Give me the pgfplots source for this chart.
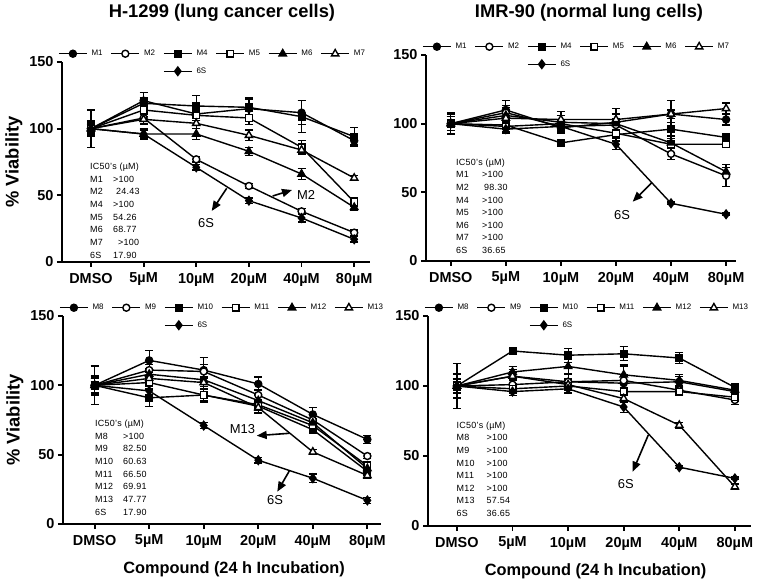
\documentclass[border=0pt]{standalone}
\usepackage{fontspec}
\setmainfont{Liberation Sans}
\usepackage{pgfplots}
\pgfplotsset{compat=1.18}
\usetikzlibrary{arrows.meta}

\pgfplotsset{
  vpanel/.style={
    scale only axis, clip=false,
    axis x line*=bottom, axis y line*=left,
    axis line style={line width=1.8bp, -},
    ymin=0, ymax=150, ytick={0,50,100,150},
    xtick={0,1,2,3,4,5},
    xticklabels={DMSO,5µM,10µM,20µM,40µM,80µM},
    tick align=outside, major tick length=5bp,
    tick style={black, line width=1.8bp},
    tick label style={font=\fontsize{14.5}{16}\selectfont\bfseries},
    xticklabel style={yshift=-2.5bp},
    /pgf/number format/assume math mode=true,
    ylabel style={font=\fontsize{18.4}{20}\selectfont\bfseries},
    xlabel style={font=\fontsize{16.4}{18}\selectfont\bfseries, yshift=-7bp},
    error bars/y dir=both, error bars/y explicit,
    error bars/error bar style={line width=1.2bp},
    error bars/error mark options={rotate=90, mark size=4bp, line width=1.2bp},
    legend columns=6, legend cell align=left,
    legend style={draw=none, fill=none, font=\fontsize{8}{10}\selectfont,
      at={(0,1)}, anchor=north west, xshift=-4bp, yshift=14bp,
      inner sep=0pt, row sep=6.5bp,
      /tikz/every odd column/.append style={column sep=2bp},
      /tikz/every even column/.append style={column sep=6bp}},
    legend image code/.code={\draw[mark repeat=2,mark phase=2]
      plot coordinates {(0bp,0bp) (14bp,0bp) (28bp,0bp)};},
    every axis plot/.append style={black, line width=1.4bp, mark size=3.5bp},
  },
  m1/.style={mark=*},
  m2/.style={mark=*, mark options={fill=white}},
  m4/.style={mark=square*, mark size=3.3bp},
  m5/.style={mark=square*, mark size=3.3bp, mark options={fill=white}},
  m6/.style={mark=triangle*, mark size=4.2bp},
  m7/.style={mark=triangle*, mark size=4.2bp, mark options={fill=white}},
  m6s/.style={mark=diamond*, mark size=4.2bp},
}

\begin{document}
\begin{tikzpicture}
\useasboundingbox (0,0) rectangle (767bp,584bp);

% H-1299, M1-M7
\begin{axis}[vpanel, at={(62bp,322bp)}, anchor=south west,
  width=308bp, height=200bp, xmin=-0.55, xmax=5.30,
  ylabel={\% Viability}]
\addplot[m1] coordinates {(0,100) +- (0,6) (1,121) +- (0,6) (2,111) +- (0,5) (3,115) +- (0,7) (4,112) +- (0,9) (5,91) +- (0,3)};
\addlegendentry{M1}
\addplot[m2] coordinates {(0,100) +- (0,4) (1,108) +- (0,4) (2,77) +- (0,2) (3,57) +- (0,2) (4,38) +- (0,2) (5,22) +- (0,2)};
\addlegendentry{M2}
\addplot[m4] coordinates {(0,100) +- (0,14) (1,119) +- (0,4) (2,117) +- (0,8) (3,116) +- (0,7) (4,109) +- (0,12) (5,94) +- (0,7)};
\addlegendentry{M4}
\addplot[m5] coordinates {(0,100) +- (0,5) (1,114) +- (0,5) (2,110) +- (0,4) (3,108) +- (0,5) (4,86) +- (0,5) (5,45) +- (0,3)};
\addlegendentry{M5}
\addplot[m6] coordinates {(0,100) +- (0,3) (1,96) +- (0,4) (2,96) +- (0,4) (3,83) +- (0,3) (4,66) +- (0,4) (5,41) +- (0,2)};
\addlegendentry{M6}
\addplot[m7] coordinates {(0,100) +- (0,3) (1,107) +- (0,4) (2,104) +- (0,4) (3,95) +- (0,4) (4,84) +- (0,3) (5,63) +- (0,2)};
\addlegendentry{M7}
\addlegendimage{empty legend}\addlegendentry{\mbox{}}
\addlegendimage{empty legend}\addlegendentry{\mbox{}}
\addplot[m6s] coordinates {(0,100) +- (0,3) (1,96) +- (0,3) (2,71) +- (0,2) (3,46) +- (0,2) (4,33) +- (0,3) (5,17) +- (0,2)};
\addlegendentry{6S}
\end{axis}

% IMR-90, M1-M7
\begin{axis}[vpanel, at={(426bp,323bp)}, anchor=south west,
  width=310bp, height=206bp, xmin=-0.45, xmax=5.18]
\addplot[m1] coordinates {(0,100) +- (0,8) (1,110) +- (0,7) (2,97) +- (0,4) (3,101) +- (0,6) (4,107) +- (0,10) (5,103) +- (0,4)};
\addlegendentry{M1}
\addplot[m2] coordinates {(0,100) +- (0,5) (1,108) +- (0,5) (2,98) +- (0,4) (3,99) +- (0,8) (4,78) +- (0,4) (5,62) +- (0,8)};
\addlegendentry{M2}
\addplot[m4] coordinates {(0,100) +- (0,7) (1,99) +- (0,5) (2,86) +- (0,2) (3,92) +- (0,4) (4,96) +- (0,5) (5,90) +- (0,3)};
\addlegendentry{M4}
\addplot[m5] coordinates {(0,100) +- (0,5) (1,98) +- (0,4) (2,100) +- (0,6) (3,93) +- (0,6) (4,85) +- (0,6) (5,85) +- (0,2)};
\addlegendentry{M5}
\addplot[m6] coordinates {(0,100) +- (0,5) (1,106) +- (0,6) (2,101) +- (0,5) (3,100) +- (0,4) (4,86) +- (0,3) (5,65) +- (0,3)};
\addlegendentry{M6}
\addplot[m7] coordinates {(0,100) +- (0,5) (1,104) +- (0,5) (2,103) +- (0,6) (3,103) +- (0,8) (4,107) +- (0,3) (5,111) +- (0,4)};
\addlegendentry{M7}
\addlegendimage{empty legend}\addlegendentry{\mbox{}}
\addlegendimage{empty legend}\addlegendentry{\mbox{}}
\addplot[m6s] coordinates {(0,100) +- (0,3) (1,96) +- (0,3) (2,98) +- (0,3) (3,85) +- (0,4) (4,42) +- (0,1) (5,34) +- (0,1)};
\addlegendentry{6S}
\end{axis}

% H-1299, M8-M13
\begin{axis}[vpanel, at={(63bp,60bp)}, anchor=south west,
  width=318bp, height=208bp, xmin=-0.58, xmax=5.25,
  ylabel={\% Viability}, xlabel={Compound (24 h Incubation)},
  xlabel style={xshift=12bp}]
\addplot[m1] coordinates {(0,100) +- (0,14) (1,118) +- (0,7) (2,111) +- (0,9) (3,101) +- (0,5) (4,79) +- (0,5) (5,61) +- (0,3)};
\addlegendentry{M8}
\addplot[m2] coordinates {(0,100) +- (0,6) (1,111) +- (0,4) (2,110) +- (0,5) (3,93) +- (0,4) (4,75) +- (0,4) (5,49) +- (0,2)};
\addlegendentry{M9}
\addplot[m4] coordinates {(0,100) +- (0,7) (1,91) +- (0,6) (2,93) +- (0,4) (3,85) +- (0,5) (4,68) +- (0,3) (5,38) +- (0,3)};
\addlegendentry{M10}
\addplot[m5] coordinates {(0,100) +- (0,5) (1,102) +- (0,4) (2,93) +- (0,5) (3,86) +- (0,4) (4,71) +- (0,3) (5,42) +- (0,3)};
\addlegendentry{M11}
\addplot[m6] coordinates {(0,100) +- (0,5) (1,108) +- (0,4) (2,104) +- (0,5) (3,89) +- (0,4) (4,73) +- (0,3) (5,40) +- (0,3)};
\addlegendentry{M12}
\addplot[m7] coordinates {(0,100) +- (0,5) (1,105) +- (0,4) (2,102) +- (0,4) (3,84) +- (0,4) (4,52) +- (0,2) (5,35) +- (0,2)};
\addlegendentry{M13}
\addlegendimage{empty legend}\addlegendentry{\mbox{}}
\addlegendimage{empty legend}\addlegendentry{\mbox{}}
\addplot[m6s] coordinates {(0,100) +- (0,3) (1,96) +- (0,3) (2,71) +- (0,2) (3,46) +- (0,2) (4,33) +- (0,3) (5,17) +- (0,2)};
\addlegendentry{6S}
\end{axis}

% IMR-90, M8-M13
\begin{axis}[vpanel, at={(428bp,58bp)}, anchor=south west,
  width=323bp, height=210bp, xmin=-0.52, xmax=5.29,
  xlabel={Compound (24 h Incubation)}, xlabel style={xshift=6bp}]
\addplot[m1] coordinates {(0,100) +- (0,16) (1,107) +- (0,5) (2,103) +- (0,5) (3,102) +- (0,6) (4,103) +- (0,4) (5,96) +- (0,3)};
\addlegendentry{M8}
\addplot[m2] coordinates {(0,100) +- (0,9) (1,101) +- (0,4) (2,103) +- (0,5) (3,104) +- (0,11) (4,97) +- (0,3) (5,90) +- (0,3)};
\addlegendentry{M9}
\addplot[m4] coordinates {(0,100) +- (0,8) (1,125) +- (0,2) (2,122) +- (0,5) (3,123) +- (0,5) (4,120) +- (0,4) (5,99) +- (0,3)};
\addlegendentry{M10}
\addplot[m5] coordinates {(0,100) +- (0,5) (1,98) +- (0,3) (2,100) +- (0,3) (3,96) +- (0,3) (4,96) +- (0,3) (5,92) +- (0,3)};
\addlegendentry{M11}
\addplot[m6] coordinates {(0,100) +- (0,5) (1,110) +- (0,4) (2,114) +- (0,5) (3,108) +- (0,6) (4,104) +- (0,4) (5,97) +- (0,3)};
\addlegendentry{M12}
\addplot[m7] coordinates {(0,100) +- (0,5) (1,107) +- (0,3) (2,101) +- (0,4) (3,91) +- (0,3) (4,72) +- (0,2) (5,28) +- (0,2)};
\addlegendentry{M13}
\addlegendimage{empty legend}\addlegendentry{\mbox{}}
\addlegendimage{empty legend}\addlegendentry{\mbox{}}
\addplot[m6s] coordinates {(0,100) +- (0,3) (1,96) +- (0,3) (2,98) +- (0,3) (3,85) +- (0,4) (4,42) +- (0,1) (5,34) +- (0,1)};
\addlegendentry{6S}
\end{axis}

% titles, IC50 tables and arrows (pixel coordinates, y downwards)
\begin{scope}[shift={(0bp,584bp)}, x=1bp, y=-1bp]
  \node[font=\fontsize{18.4}{20}\selectfont\bfseries] at (222,13) {H-1299 (lung cancer cells)};
  \node[font=\fontsize{18.4}{20}\selectfont\bfseries] at (589,13) {IMR-90 (normal lung cells)};

  \tikzset{ic/.style={anchor=north west, inner sep=0pt,
    font=\fontsize{9}{12.7}\selectfont\addfontfeatures{LetterSpace=3}}}
  \node[ic] at (90,160.5) {\begin{tabular}{@{}p{23bp}@{}l@{}}
    \multicolumn{2}{@{}l@{}}{IC50's (µM)}\\
    M1 & >100\\ M2 & \hspace{3bp}24.43\\ M4 & >100\\ M5 & 54.26\\
    M6 & 68.77\\ M7 & \hspace{5bp}>100\\ 6S & 17.90\end{tabular}};
  \node[ic] at (456,156) {\begin{tabular}{@{}p{26bp}@{}l@{}}
    \multicolumn{2}{@{}l@{}}{IC50's (µM)}\\
    M1 & >100\\ M2 & \hspace{2bp}98.30\\ M4 & >100\\ M5 & >100\\
    M6 & >100\\ M7 & >100\\ 6S & 36.65\end{tabular}};
  \node[ic] at (95,417.5) {\begin{tabular}{@{}p{28bp}@{}l@{}}
    \multicolumn{2}{@{}l@{}}{IC50's (µM)}\\
    M8 & >100\\ M9 & 82.50\\ M10 & 60.63\\ M11 & 66.50\\
    M12 & 69.91\\ M13 & 47.77\\ 6S & 17.90\end{tabular}};
  \node[ic] at (456.5,419) {\begin{tabular}{@{}p{30bp}@{}l@{}}
    \multicolumn{2}{@{}l@{}}{IC50's (µM)}\\
    M8 & >100\\ M9 & >100\\ M10 & >100\\ M11 & >100\\
    M12 & >100\\ M13 & 57.54\\ 6S & 36.65\end{tabular}};

  \tikzset{note/.style={font=\fontsize{13}{15}\selectfont},
    pointer/.style={line width=1.6bp, -{Triangle[length=10bp,width=8bp]}}}
  \draw[pointer] (226.7,188.3) -- (211.7,211);
  \node[note] at (206,223) {6S};
  \draw[pointer] (272.7,196) -- (292,190);
  \node[note] at (306,195) {M2};
  \draw[pointer] (651.7,182.7) -- (632.7,201.7);
  \node[note] at (622,215) {6S};
  \draw[pointer] (289.3,433.3) -- (256.7,435.7);
  \node[note] at (242.5,429) {M13};
  \draw[pointer] (289.3,471) -- (277.3,491.7);
  \node[note] at (275,500) {6S};
  \draw[pointer] (648.3,435) -- (632.7,471.7);
  \node[note] at (625.8,483.8) {6S};
\end{scope}
\end{tikzpicture}
\end{document}
